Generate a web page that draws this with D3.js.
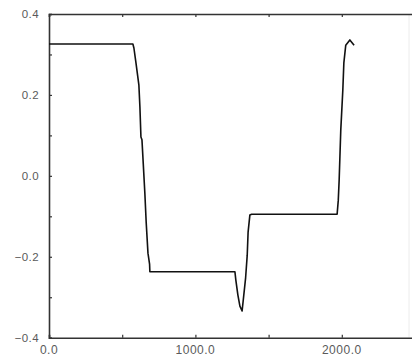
<!DOCTYPE html>
<html><head><meta charset="utf-8">
<script src="https://cdn.jsdelivr.net/npm/d3@7"></script>
<style>body{margin:0;background:#fff}svg{display:block}</style>
</head><body>
<script>
// Data
const xs = [0, 565, 573, 580, 594, 614, 621, 628, 635, 644, 655, 664, 676, 687, 689,
  1270, 1276, 1290, 1304, 1319, 1343, 1354, 1360, 1372, 1384,
  1968, 1976, 1982, 1993, 2007, 2014, 2027, 2055, 2084];
const ys = [0.326, 0.326, 0.326, 0.316, 0.279, 0.224, 0.170, 0.096, 0.089, 0.029, -0.045, -0.116, -0.191, -0.218, -0.237,
  -0.237, -0.257, -0.294, -0.322, -0.334, -0.252, -0.196, -0.139, -0.097, -0.095,
  -0.095, -0.060, -0.010, 0.113, 0.212, 0.279, 0.323, 0.336, 0.323];
const xTickLabels = [0, 1000, 2000];
const xMinorTicks = [500, 1500];
const yTickLabels = [0.4, 0.2, 0.0, -0.2, -0.4];
const yMinorTicks = [0.3, 0.1, -0.1, -0.3];

const W = 412, H = 358;
const svg = d3.select("body").append("svg").attr("width", W).attr("height", H);
const x = d3.scaleLinear().domain([0, 2500]).range([49, 415]);
const y = d3.scaleLinear().domain([-0.4, 0.4]).range([337.7, 14]);

// faint right frame
svg.append("line").attr("x1", 409).attr("x2", 409).attr("y1", y(0.4)).attr("y2", y(-0.4))
  .attr("stroke", "#ececec").attr("stroke-width", 1);

const axisColor = "#333";
const labelColor = "#5a5a5a";
const fmt = d3.format(".1f");

const gBottom = svg.append("g").attr("transform", `translate(0,${y(-0.4)})`)
  .call(d3.axisTop(x).tickValues([...xTickLabels, ...xMinorTicks]).tickSize(3).tickFormat(""));
const gTop = svg.append("g").attr("transform", `translate(0,${y(0.4)})`)
  .call(d3.axisBottom(x).tickValues([...xTickLabels, ...xMinorTicks]).tickSize(3).tickFormat(""));
const gLeft = svg.append("g").attr("transform", `translate(${x(0)},0)`)
  .call(d3.axisRight(y).tickValues([...yTickLabels, ...yMinorTicks]).tickSize(3).tickFormat(""));
[gBottom, gTop, gLeft].forEach(g => {
  g.select(".domain").attr("stroke", axisColor).attr("stroke-width", 1.6);
  g.selectAll(".tick line").attr("stroke", axisColor).attr("stroke-width", 1.2);
});

// tick labels
svg.append("g").selectAll("text").data(xTickLabels).join("text")
  .attr("x", d => x(d)).attr("y", 354)
  .attr("text-anchor", "middle")
  .attr("font-family", "Liberation Sans, Arial, sans-serif")
  .attr("font-size", 12).attr("letter-spacing", 0.5)
  .attr("fill", labelColor).text(d => fmt(d));
svg.append("g").selectAll("text").data(yTickLabels).join("text")
  .attr("x", 39).attr("y", d => y(d) + 4)
  .attr("text-anchor", "end")
  .attr("font-family", "Liberation Sans, Arial, sans-serif")
  .attr("font-size", 11.5).attr("letter-spacing", 0.4)
  .attr("fill", labelColor).text(d => fmt(d).replace("-", "\u2212"));

// data line
const pts = xs.map((v, i) => [v, ys[i]]);
svg.append("path").datum(pts)
  .attr("fill", "none").attr("stroke", "#111").attr("stroke-width", 1.6)
  .attr("stroke-linejoin", "round")
  .attr("d", d3.line().x(d => x(d[0])).y(d => y(d[1])));
</script>
</body></html>
